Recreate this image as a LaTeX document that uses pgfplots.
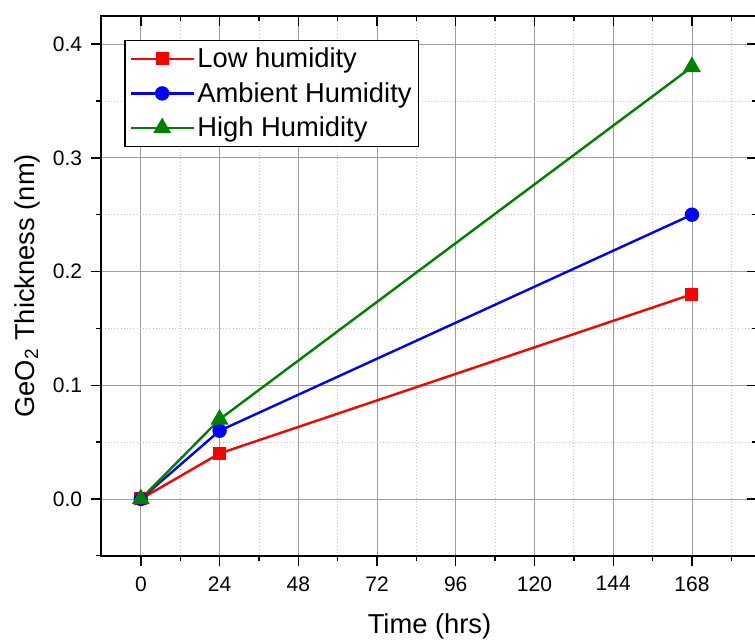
\documentclass[border=0pt]{standalone}
\usepackage{pgfplots}
\pgfplotsset{compat=1.18}
\usepackage{fontspec}
\setmainfont{Liberation Sans}
\begin{document}
\begin{tikzpicture}
\begin{axis}[
  name=ax,
  scale only axis,
  width=492pt, height=405pt,
  xmin=-12, xmax=188,
  ymin=-0.05, ymax=0.425,
  xtick={0,24,48,72,96,120,144,168},
  minor xtick={12,36,60,84,108,132,156,180},
  ytick={0,0.1,0.2,0.3,0.4},
  minor ytick={-0.05,0.05,0.15,0.25,0.35},
  xtick pos=left, ytick pos=left,
  tick align=outside,
  major tick length=8pt, minor tick length=4pt,
  tick style={black, line width=1pt},
  axis line style={black, line width=1.5pt},
  grid=both,
  major grid style={gray!75, line width=0.6pt},
  minor grid style={gray!45, dotted, line width=0.6pt},
  /pgf/number format/assume math mode=true,
  yticklabel style={/pgf/number format/fixed, /pgf/number format/fixed zerofill, /pgf/number format/precision=1, xshift=-3pt},
  ticklabel style={font=\fontsize{15.75}{18}\selectfont},
  xticklabel style={yshift=-4pt},
  xlabel={Time (hrs)},
  ylabel={GeO\textsubscript{2} Thickness (nm)},
  label style={font=\fontsize{20.5}{24}\selectfont},
  xlabel shift=9.5pt,
  ylabel shift=3pt,
  legend style={at={(rel axis cs:0.035,0.955)}, anchor=north west,
    draw=black, line width=0.8pt, fill=white,
    font=\fontsize{20.5}{24}\selectfont, inner sep=3.5pt,
    row sep=5.6pt, cells={anchor=west}},
  legend image code/.code={%
    \draw[mark repeat=2,mark phase=2] plot coordinates {(0pt,0pt)(23.5pt,0pt)(47pt,0pt)};},
]
\addplot[red, line width=1.8pt, mark=square*, mark size=4pt, mark options={solid}]
  coordinates {(0,0) (24,0.04) (168,0.18)};
\addlegendentry{Low humidity}
\addplot[blue, line width=1.8pt, mark=*, mark size=4.5pt]
  coordinates {(0,0) (24,0.06) (168,0.25)};
\addlegendentry{Ambient Humidity}
\addplot[black!50!green, line width=1.8pt, mark=triangle*, mark size=6pt]
  coordinates {(0,0) (24,0.07) (168,0.38)};
\addlegendentry{High Humidity}
\end{axis}
\begin{axis}[
  scale only axis,
  width=492pt, height=405pt,
  xmin=-12, xmax=188,
  ymin=-0.05, ymax=0.425,
  xtick={0,24,48,72,96,120,144,168},
  minor xtick={12,36,60,84,108,132,156,180},
  ytick={0,0.1,0.2,0.3,0.4},
  minor ytick={-0.05,0.05,0.15,0.25,0.35},
  xtick pos=right, ytick pos=right,
  tick align=inside,
  major tick length=8pt, minor tick length=4pt,
  tick style={black, line width=1pt},
  axis line style={black, line width=1.5pt},
  xticklabels={}, yticklabels={},
]
\end{axis}
\path (ax.south west) ++(-76.1pt,-62.5pt) coordinate (bl);
\path (ax.north west) ++(490.1pt,11.8pt) coordinate (tr);
\pgfresetboundingbox
\path[use as bounding box] (bl) rectangle (tr);
\end{tikzpicture}
\end{document}
